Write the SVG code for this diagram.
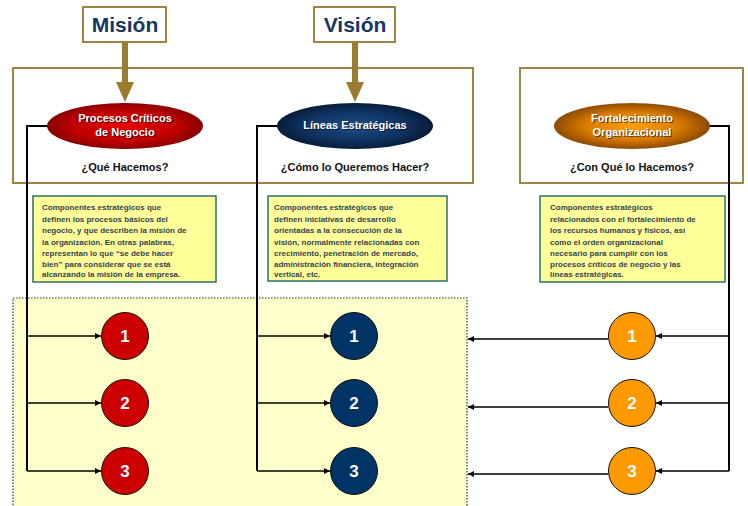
<svg xmlns="http://www.w3.org/2000/svg" width="748" height="506" viewBox="0 0 748 506">
  <defs>
    <radialGradient id="gRed" cx="50%" cy="50%" r="55%">
      <stop offset="0" stop-color="#e80000"/>
      <stop offset="0.6" stop-color="#c00000"/>
      <stop offset="1" stop-color="#7a0000"/>
    </radialGradient>
    <radialGradient id="gBlue" cx="50%" cy="50%" r="55%">
      <stop offset="0" stop-color="#1d4f86"/>
      <stop offset="0.6" stop-color="#0f3260"/>
      <stop offset="1" stop-color="#06162e"/>
    </radialGradient>
    <radialGradient id="gOrange" cx="50%" cy="50%" r="55%">
      <stop offset="0" stop-color="#ffa010"/>
      <stop offset="0.55" stop-color="#d87a00"/>
      <stop offset="1" stop-color="#7a3e00"/>
    </radialGradient>
    <marker id="ah" viewBox="0 0 8 8" refX="8" refY="4" markerWidth="6" markerHeight="6" markerUnits="userSpaceOnUse" orient="auto">
      <path d="M0,0 L8,4 L0,8 z" fill="#000"/>
    </marker>
  </defs>
  <style>
    .frame { fill: #fff; stroke: #9c8444; stroke-width: 2; }
    .title { font-family: "Liberation Sans", Arial, sans-serif; font-weight: bold; font-size: 21px; fill: #17375e; text-anchor: middle; }
    .gold { fill: #9b7b2e; }
    .elt { font-family: "Liberation Sans", Arial, sans-serif; font-weight: bold; font-size: 11px; fill: #fff; text-anchor: middle; }
    .elsh { font-family: "Liberation Sans", Arial, sans-serif; font-weight: bold; font-size: 11px; fill: #000; fill-opacity: 0.6; text-anchor: middle; }
    .q { font-family: "Liberation Sans", Arial, sans-serif; font-weight: bold; font-size: 11px; fill: #111; text-anchor: middle; }
    .note { fill: #ffff99; stroke: #2f6f6a; stroke-width: 1.5; }
    .nt { font-family: "Liberation Sans", Arial, sans-serif; font-weight: bold; font-size: 8px; fill: #34434f; }
    .zone { fill: #ffffcc; stroke: #333; stroke-width: 1.2; stroke-dasharray: 1.5 1.5; }
    .num { font-family: "Liberation Sans", Arial, sans-serif; font-weight: bold; font-size: 17px; fill: #fff; text-anchor: middle; }
    .cr { fill: #cc0000; stroke: #111; stroke-width: 1; }
    .cb { fill: #003366; stroke: #111; stroke-width: 1; }
    .co { fill: #ff9900; stroke: #111; stroke-width: 1; }
    .trunk { fill: none; stroke: #000; stroke-width: 2; }
    .branch { fill: none; stroke: #000; stroke-width: 1.5; marker-end: url(#ah); }
  </style>

  <!-- highlighted area of the numbered items -->
  <rect class="zone" x="13" y="298" width="454" height="212"/>

  <!-- outer frames -->
  <rect class="frame" x="13" y="68" width="460" height="115"/>
  <rect class="frame" x="520" y="68" width="223" height="115"/>

  <!-- Mision -->
  <g id="mision">
    <rect class="frame" x="83" y="7" width="83" height="35"/>
    <text class="title" x="125" y="32">Misión</text>
    <path class="gold" d="M122,42 H128 V82 H134 L125,102 L116,82 H122 Z"/>
  </g>

  <!-- Vision -->
  <g id="vision">
    <rect class="frame" x="314" y="7" width="81" height="35"/>
    <text class="title" x="355" y="32">Visión</text>
    <path class="gold" d="M352,42 H358 V82 H364 L355,102 L346,82 H352 Z"/>
  </g>

  <!-- connectors -->
  <g id="connectors">
    <path class="trunk" d="M48,126 H27 V471"/>
    <path class="branch" d="M27,336 H101"/>
    <path class="branch" d="M27,403 H101"/>
    <path class="branch" d="M27,471 H101"/>

    <path class="trunk" d="M278,126 H257 V471"/>
    <path class="branch" d="M257,336 H330"/>
    <path class="branch" d="M257,403 H330"/>
    <path class="branch" d="M257,471 H330"/>

    <path class="trunk" d="M709,126 H729 V471"/>
    <path class="branch" d="M729,336 H656"/>
    <path class="branch" d="M729,403 H656"/>
    <path class="branch" d="M729,471 H656"/>

    <path class="branch" d="M608,339 H468"/>
    <path class="branch" d="M608,407 H468"/>
    <path class="branch" d="M608,474 H468"/>
  </g>

  <!-- Procesos Criticos de Negocio -->
  <g id="procesos">
    <ellipse cx="125" cy="126" rx="78" ry="23" fill="url(#gRed)"/>
    <text class="elsh" x="126" y="123">Procesos Críticos</text>
    <text class="elt" x="125" y="122">Procesos Críticos</text>
    <text class="elsh" x="126" y="137">de Negocio</text>
    <text class="elt" x="125" y="136">de Negocio</text>
    <text class="q" x="125" y="171">¿Qué Hacemos?</text>
  </g>

  <!-- Lineas Estrategicas -->
  <g id="lineas">
    <ellipse cx="355" cy="126" rx="78" ry="23" fill="url(#gBlue)"/>
    <text class="elsh" x="356" y="130">Líneas Estratégicas</text>
    <text class="elt" x="355" y="129">Líneas Estratégicas</text>
    <text class="q" x="355" y="171">¿Cómo lo Queremos Hacer?</text>
  </g>

  <!-- Fortalecimiento Organizacional -->
  <g id="fortalecimiento">
    <ellipse cx="632" cy="126" rx="78" ry="23" fill="url(#gOrange)"/>
    <text class="elsh" x="633" y="123">Fortalecimiento</text>
    <text class="elt" x="632" y="122">Fortalecimiento</text>
    <text class="elsh" x="633" y="137">Organizacional</text>
    <text class="elt" x="632" y="136">Organizacional</text>
    <text class="q" x="632" y="171">¿Con Qué lo Hacemos?</text>
  </g>

  <!-- description notes -->
  <g id="nota-procesos">
    <rect class="note" x="33" y="196" width="183" height="86"/>
    <text class="nt">
      <tspan x="42" y="210">Componentes estratégicos que</tspan>
      <tspan x="42" y="221.5">definen los procesos básicos del</tspan>
      <tspan x="42" y="233">negocio, y que describen la misión de</tspan>
      <tspan x="42" y="244.5">la organización. En otras palabras,</tspan>
      <tspan x="42" y="256">representan lo que “se debe hacer</tspan>
      <tspan x="42" y="267">bien” para considerar que se está</tspan>
      <tspan x="42" y="277">alcanzando la misión de la empresa.</tspan>
    </text>
  </g>
  <g id="nota-lineas">
    <rect class="note" x="268" y="196" width="179" height="85"/>
    <text class="nt">
      <tspan x="274" y="210">Componentes estratégicos que</tspan>
      <tspan x="274" y="221.5">definen iniciativas de desarrollo</tspan>
      <tspan x="274" y="233">orientadas a la consecución de la</tspan>
      <tspan x="274" y="244.5">visión, normalmente relacionadas con</tspan>
      <tspan x="274" y="256">crecimiento, penetración de mercado,</tspan>
      <tspan x="274" y="267">administración financiera, integración</tspan>
      <tspan x="274" y="277">vertical, etc.</tspan>
    </text>
  </g>
  <g id="nota-fortalecimiento">
    <rect class="note" x="540" y="196" width="185" height="86"/>
    <text class="nt">
      <tspan x="550" y="210">Componentes estratégicos</tspan>
      <tspan x="550" y="221.5">relacionados con el fortalecimiento de</tspan>
      <tspan x="550" y="233">los recursos humanos y físicos, así</tspan>
      <tspan x="550" y="244.5">como el orden organizacional</tspan>
      <tspan x="550" y="256">necesario para cumplir con los</tspan>
      <tspan x="550" y="267">procesos críticos de negocio y las</tspan>
      <tspan x="550" y="277">líneas estratégicas.</tspan>
    </text>
  </g>

  <!-- numbered items -->
  <g id="p1"><circle class="cr" cx="125" cy="336" r="23.5"/><text class="num" x="125" y="342">1</text></g>
  <g id="p2"><circle class="cr" cx="125" cy="403" r="23.5"/><text class="num" x="125" y="409">2</text></g>
  <g id="p3"><circle class="cr" cx="125" cy="471" r="23.5"/><text class="num" x="125" y="477">3</text></g>

  <g id="l1"><circle class="cb" cx="354" cy="336" r="23.5"/><text class="num" x="354" y="342">1</text></g>
  <g id="l2"><circle class="cb" cx="354" cy="403" r="23.5"/><text class="num" x="354" y="409">2</text></g>
  <g id="l3"><circle class="cb" cx="354" cy="471" r="23.5"/><text class="num" x="354" y="477">3</text></g>

  <g id="f1"><circle class="co" cx="632" cy="336" r="23.5"/><text class="num" x="632" y="342">1</text></g>
  <g id="f2"><circle class="co" cx="632" cy="403" r="23.5"/><text class="num" x="632" y="409">2</text></g>
  <g id="f3"><circle class="co" cx="632" cy="471" r="23.5"/><text class="num" x="632" y="477">3</text></g>
</svg>
